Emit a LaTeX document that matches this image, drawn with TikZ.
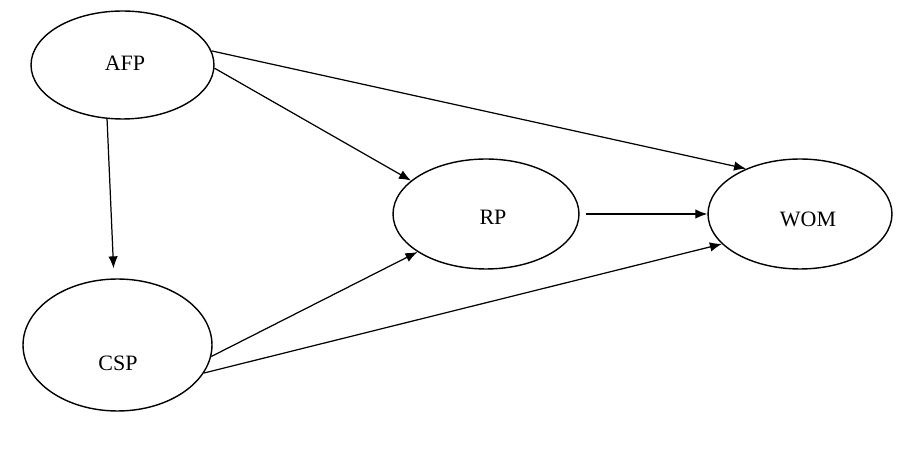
\documentclass[tikz,border=0pt]{standalone}
\usepackage{fontspec}
\setmainfont{Liberation Serif}
\usetikzlibrary{shapes.geometric,arrows.meta}
\begin{document}
\begin{tikzpicture}[x=0.02cm,y=-0.02cm]
		% Styles
		\tikzstyle{fleche}=[-{Latex[length=0.24cm,width=0.19cm]},line width=0.7pt]
		\tikzstyle{bulle}=[draw,ellipse,line width=0.8pt,inner sep=0pt,font=\fontsize{12.5}{15}\selectfont]
		\tikzstyle{texte}=[font=\fontsize{12.5}{15}\selectfont]
		% Cadre
		\useasboundingbox (0,0) rectangle (923,455);
		% Noeuds
		\node[bulle,minimum width=3.66cm,minimum height=2.16cm] (AFP) at (122.5,65) {};
		\node[bulle,minimum width=3.78cm,minimum height=2.64cm] (CSP) at (117.5,345) {};
		\node[bulle,minimum width=3.72cm,minimum height=2.2cm] (RP) at (486,214) {};
		\node[bulle,minimum width=3.68cm,minimum height=2.2cm] (WOM) at (800,214) {};
		% Textes
		\node[texte] (tAFP) at (125,63) {AFP};
		\node[texte] (tCSP) at (118,363) {CSP};
		\node[texte] (tRP) at (493,217) {RP};
		\node[texte] (tWOM) at (808,219) {WOM};
		% Arcs
		\draw[fleche] (AFP.9)--(WOM.140);
		\draw[fleche] (AFP.-2)--(RP.156);
		\draw[fleche,shorten >=0.2cm] (AFP.-106)--(CSP.93);
		\draw[fleche] (CSP.-7)--(RP.209);
		\draw[fleche] (CSP.-18)--(WOM.201);
		\draw[fleche,shorten <=0.12cm] (RP.east)--(WOM.west);
	\end{tikzpicture}
\end{document}
